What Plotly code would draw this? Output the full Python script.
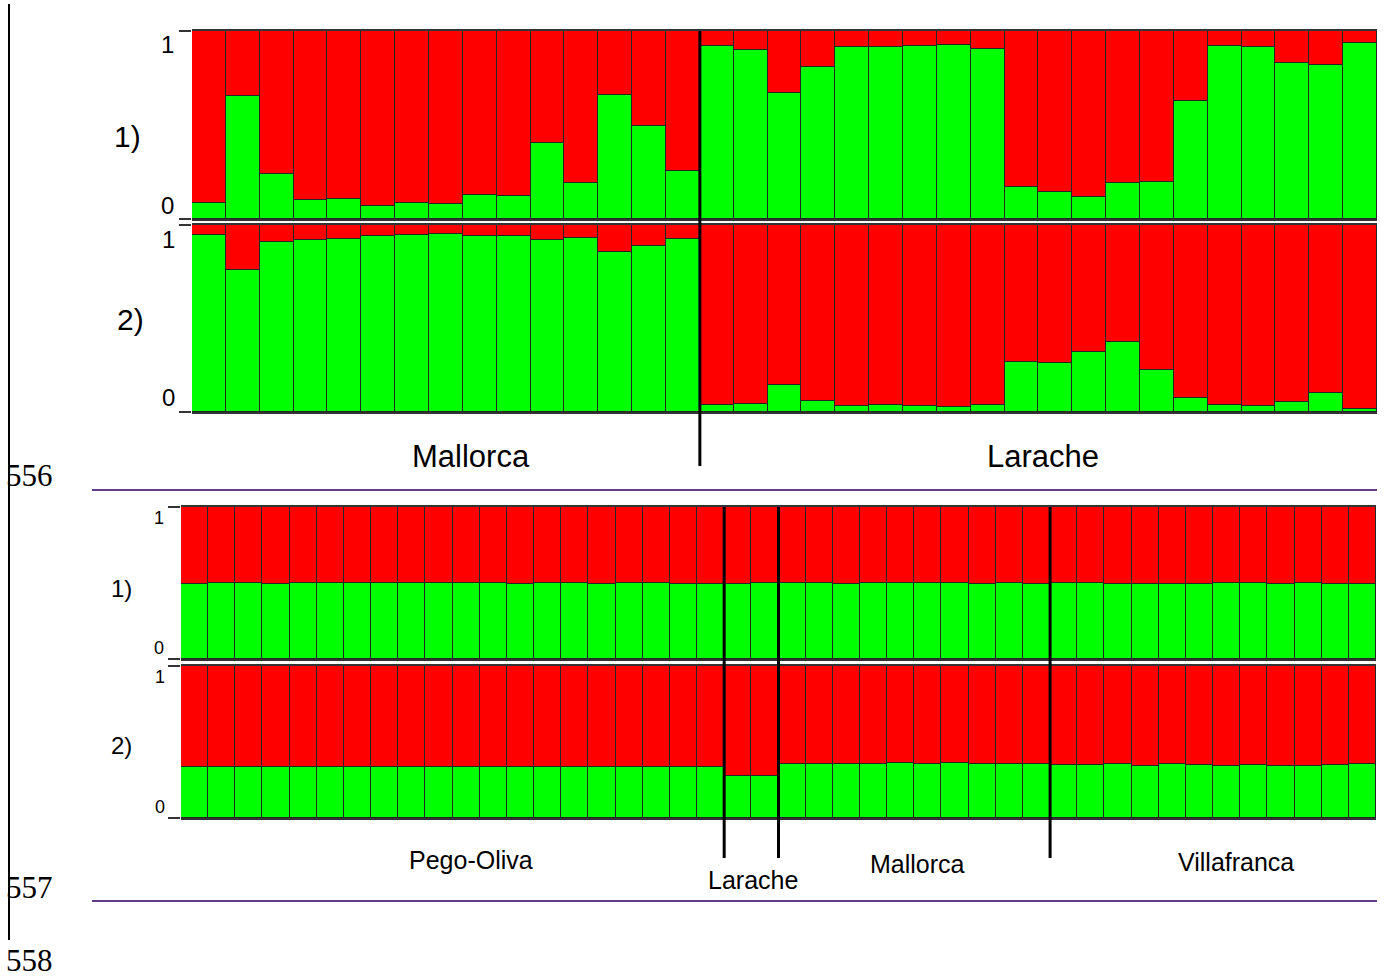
import plotly.graph_objects as go

W, H = 1386, 978

# Upper block: two admixture runs over Mallorca and Larache individuals
top_groups = ["Mallorca", "Larache"]
top_sizes = [15, 20]
top_run1_green = [0.083, 0.652, 0.237, 0.099, 0.106, 0.071, 0.085, 0.078, 0.128, 0.122,
                  0.404, 0.193, 0.661, 0.496, 0.257,
                  0.918, 0.899, 0.668, 0.806, 0.913, 0.913, 0.920, 0.927, 0.906, 0.170,
                  0.144, 0.115, 0.193, 0.195, 0.626, 0.918, 0.913, 0.828, 0.819, 0.936]
top_run2_green = [0.947, 0.760, 0.911, 0.920, 0.927, 0.941, 0.947, 0.954, 0.941, 0.940,
                  0.918, 0.932, 0.854, 0.890, 0.927,
                  0.036, 0.044, 0.146, 0.057, 0.030, 0.036, 0.030, 0.025, 0.036, 0.269,
                  0.260, 0.319, 0.377, 0.226, 0.075, 0.036, 0.030, 0.052, 0.101, 0.018]

# Lower block: four populations
bottom_groups = ["Pego-Oliva", "Larache", "Mallorca", "Villafranca"]
bottom_sizes = [20, 2, 10, 12]
bottom_run1_green = [0.492, 0.501, 0.500, 0.492, 0.501, 0.501, 0.501, 0.501, 0.501, 0.501,
                     0.501, 0.500, 0.492, 0.501, 0.500, 0.492, 0.499, 0.499, 0.492, 0.492,
                     0.492, 0.497,
                     0.497, 0.497, 0.492, 0.501, 0.501, 0.501, 0.501, 0.495, 0.501, 0.495,
                     0.497, 0.501, 0.492, 0.492, 0.492, 0.492, 0.501, 0.501, 0.492, 0.501,
                     0.492, 0.492]
bottom_run2_green = [0.334] * 20 + [0.277, 0.277] + \
                    [0.356, 0.356, 0.356, 0.356, 0.363, 0.356, 0.363, 0.356, 0.356, 0.356] + \
                    [0.349, 0.349, 0.356, 0.343, 0.356, 0.349, 0.341, 0.347, 0.341, 0.341,
                     0.349, 0.356]

tick_text = ["0", "1"]

GREEN = "#00ff00"
RED = "#ff0000"
EDGE = "#262626"
AXIS = "#333333"
RULE = "#633c8c"
SANS = "Liberation Sans, Arial, sans-serif"
SERIF = "Liberation Serif, Times New Roman, serif"


def px(x):
    return x / W


def py(y):
    return 1 - y / H


# (green values, x-domain in px, y-span in px, tick font size, tick label x, label inset)
rows = [
    (top_run1_green, (192, 1377), (31, 219), 24, 167, 14),
    (top_run2_green, (192, 1377), (225, 412), 24, 168, 14),
    (bottom_run1_green, (181, 1376), (507, 659), 18, 159, 11),
    (bottom_run2_green, (181, 1376), (666, 818), 18, 160, 11),
]

annotations = []


def label(text, x, y, size, family=SANS, xanchor="center"):
    annotations.append(dict(text=text, x=px(x), y=py(y), xref="paper", yref="paper",
                            showarrow=False, xanchor=xanchor, yanchor="middle",
                            font=dict(family=family, size=size, color="black")))


fig = go.Figure()
layout_axes = {}
for i, (green, (x0, x1), (ytop, ybot), tfs, tx, inset) in enumerate(rows, start=1):
    idx = list(range(len(green)))
    red = [1 - g for g in green]
    xa = "x" if i == 1 else f"x{i}"
    ya = "y" if i == 1 else f"y{i}"
    for vals, col in ((green, GREEN), (red, RED)):
        fig.add_trace(go.Bar(
            x=idx, y=vals, xaxis=xa, yaxis=ya,
            marker=dict(color=col, line=dict(color=EDGE, width=1)),
            width=1.0, showlegend=False, hoverinfo="skip",
        ))
    sfx = "" if i == 1 else str(i)
    layout_axes[f"xaxis{sfx}"] = dict(
        domain=[px(x0), px(x1)], anchor=ya, range=[-0.5, len(green) - 0.5],
        showticklabels=False, ticks="", showgrid=False, zeroline=False, automargin=False,
        showline=True, mirror=True, linecolor=AXIS, linewidth=1.5, fixedrange=True,
    )
    layout_axes[f"yaxis{sfx}"] = dict(
        domain=[py(ybot), py(ytop)], anchor=xa, range=[0, 1],
        tickvals=[0, 1], showticklabels=False, ticks="outside", ticklen=12,
        tickcolor=AXIS, tickwidth=1.5, showgrid=False, zeroline=False, showline=False,
        automargin=False, fixedrange=True,
    )
    # tick labels sit just inside the 0..1 span, beside their tick marks
    label(tick_text[0], tx, ybot - inset, tfs)
    label(tick_text[1], tx, ytop + inset, tfs)

fig.update_layout(
    width=W, height=H, margin=dict(l=0, r=0, t=0, b=0, autoexpand=False),
    paper_bgcolor="white", plot_bgcolor="white",
    barmode="stack", bargap=0, **layout_axes,
)

shapes = []
# population separators in the upper block
edge = 0
for n in top_sizes[:-1]:
    edge += n
    shapes.append(dict(type="line", xref="x", yref="paper", x0=edge - 0.5, x1=edge - 0.5,
                       y0=py(31), y1=py(466), line=dict(color="black", width=3)))
# population separators in the lower block
edge = 0
for n in bottom_sizes[:-1]:
    edge += n
    shapes.append(dict(type="line", xref="x3", yref="paper", x0=edge - 0.5, x1=edge - 0.5,
                       y0=py(507), y1=py(858), line=dict(color="black", width=3)))
# rules under each block and the margin bar
for yy in (490, 901):
    shapes.append(dict(type="line", xref="paper", yref="paper", x0=px(92), x1=px(1377),
                       y0=py(yy), y1=py(yy), line=dict(color=RULE, width=2)))
shapes.append(dict(type="line", xref="paper", yref="paper", x0=px(9), x1=px(9),
                   y0=py(4), y1=py(940), line=dict(color="black", width=2)))
fig.update_layout(shapes=shapes)

label("1)", 127, 137, 30)
label("2)", 130, 320, 30)
label("1)", 121, 588, 24)
label("2)", 121, 745, 24)

for name, xc in zip(top_groups, (471, 1043)):
    label(name, xc, 456, 31)
for name, xc, yc in zip(bottom_groups, (471, 753, 917, 1236), (860, 880, 864, 862)):
    label(name, xc, yc, 25)

for num, yc in (("556", 476), ("557", 887), ("558", 960)):
    label(num, 4, yc, 31, family=SERIF, xanchor="left")

fig.update_layout(annotations=annotations)
fig.write_html("out.html")
